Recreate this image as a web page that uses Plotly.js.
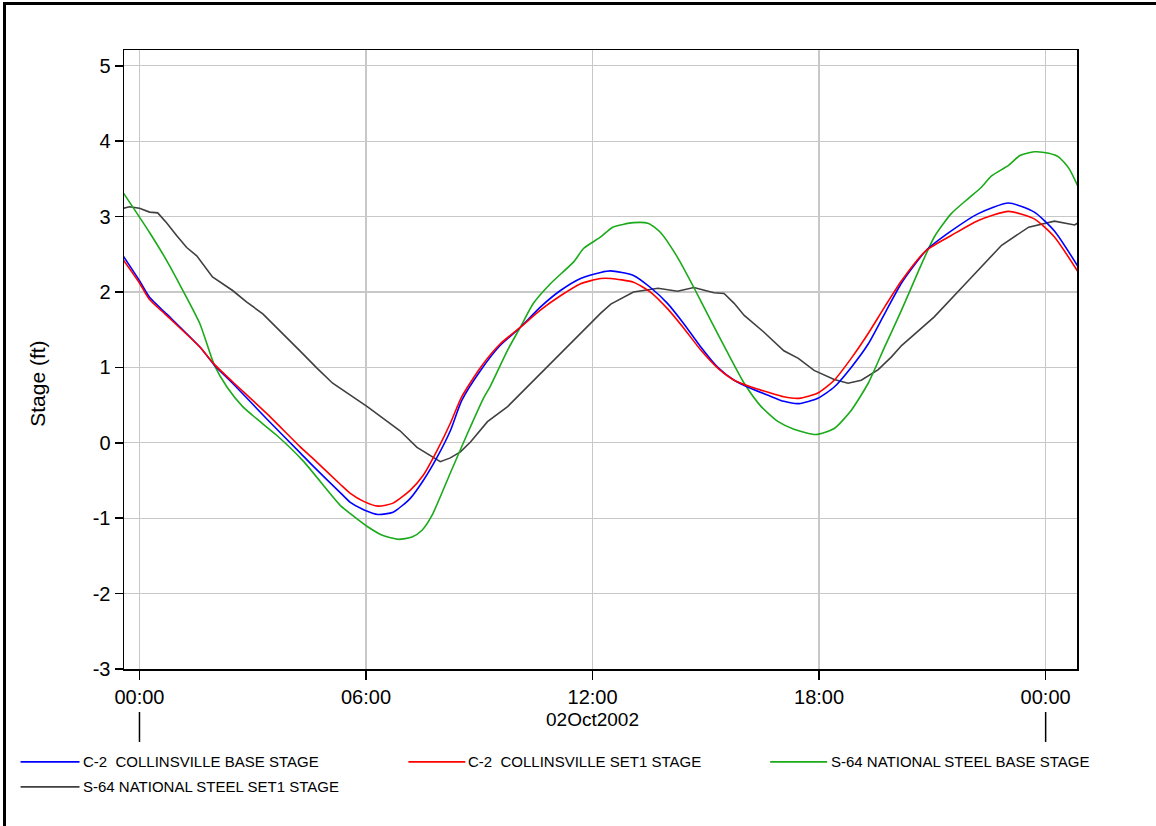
<!DOCTYPE html>
<html>
<head>
<meta charset="utf-8">
<script src="https://cdn.plot.ly/plotly-3.0.1.min.js"></script>
<style>
  html, body { margin: 0; padding: 0; background: #fff; }
  #frame { position: absolute; left: 3px; top: 2px; width: 1160px; height: 830px;
           border-left: 3px solid #000; border-top: 3px solid #000; }
  #chart { position: absolute; left: 0; top: 0; width: 1156px; height: 826px; }
</style>
</head>
<body>
<div id="frame"></div>
<div id="chart"></div>
<script>
// ---------------- DATA ----------------
const seriesNames = [
  "C-2\u00a0\u00a0COLLINSVILLE BASE STAGE",
  "C-2\u00a0\u00a0COLLINSVILLE SET1 STAGE",
  "S-64 NATIONAL STEEL BASE STAGE",
  "S-64 NATIONAL STEEL SET1 STAGE"
];

const c2BaseTime = ["2002-10-01 23:34","2002-10-02 00:00","2002-10-02 00:16","2002-10-02 00:43","2002-10-02 01:36","2002-10-02 01:59","2002-10-02 02:28","2002-10-02 03:22","2002-10-02 04:15","2002-10-02 04:36","2002-10-02 05:19","2002-10-02 05:35","2002-10-02 05:57","2002-10-02 06:19","2002-10-02 06:43","2002-10-02 07:10","2002-10-02 07:31","2002-10-02 07:53","2002-10-02 08:14","2002-10-02 08:32","2002-10-02 09:02","2002-10-02 09:33","2002-10-02 10:05","2002-10-02 10:37","2002-10-02 11:09","2002-10-02 11:41","2002-10-02 12:13","2002-10-02 12:29","2002-10-02 13:05","2002-10-02 13:32","2002-10-02 13:59","2002-10-02 14:25","2002-10-02 14:52","2002-10-02 15:19","2002-10-02 15:45","2002-10-02 16:12","2002-10-02 16:39","2002-10-02 17:04","2002-10-02 17:28","2002-10-02 17:58","2002-10-02 18:24","2002-10-02 18:51","2002-10-02 19:18","2002-10-02 19:44","2002-10-02 20:11","2002-10-02 20:50","2002-10-02 21:30","2002-10-02 22:13","2002-10-02 23:01","2002-10-02 23:42","2002-10-03 00:14","2002-10-03 00:52"];
const c2BaseStage = [2.48,2.15,1.93,1.71,1.27,1.03,0.79,0.32,-0.13,-0.31,-0.66,-0.79,-0.89,-0.95,-0.92,-0.74,-0.50,-0.19,0.16,0.56,0.96,1.29,1.53,1.80,2.02,2.18,2.26,2.28,2.22,2.06,1.85,1.58,1.27,1.00,0.83,0.72,0.63,0.55,0.52,0.59,0.74,1.00,1.31,1.71,2.12,2.55,2.81,3.04,3.18,3.06,2.81,2.33];

const c2Set1Time = c2BaseTime;
const c2Set1Stage = [2.43,2.12,1.90,1.69,1.27,1.04,0.81,0.39,-0.05,-0.21,-0.55,-0.67,-0.78,-0.84,-0.80,-0.63,-0.43,-0.10,0.26,0.61,1.00,1.31,1.53,1.76,1.95,2.11,2.18,2.18,2.13,2.00,1.78,1.52,1.23,0.99,0.83,0.74,0.67,0.61,0.59,0.66,0.83,1.12,1.45,1.80,2.15,2.55,2.75,2.95,3.07,2.97,2.73,2.26];

const s64BaseTime = ["2002-10-01 23:34","2002-10-02 00:16","2002-10-02 00:43","2002-10-02 01:09","2002-10-02 01:36","2002-10-02 01:59","2002-10-02 02:19","2002-10-02 02:44","2002-10-02 03:06","2002-10-02 03:38","2002-10-02 04:20","2002-10-02 05:19","2002-10-02 05:35","2002-10-02 06:02","2002-10-02 06:27","2002-10-02 06:51","2002-10-02 07:13","2002-10-02 07:29","2002-10-02 07:45","2002-10-02 08:14","2002-10-02 08:41","2002-10-02 09:06","2002-10-02 09:18","2002-10-02 09:45","2002-10-02 10:05","2002-10-02 10:26","2002-10-02 10:53","2002-10-02 11:30","2002-10-02 11:46","2002-10-02 12:13","2002-10-02 12:32","2002-10-02 13:05","2002-10-02 13:29","2002-10-02 13:48","2002-10-02 14:15","2002-10-02 14:41","2002-10-02 15:08","2002-10-02 15:35","2002-10-02 16:01","2002-10-02 16:28","2002-10-02 16:55","2002-10-02 17:20","2002-10-02 17:55","2002-10-02 18:24","2002-10-02 18:51","2002-10-02 19:18","2002-10-02 19:44","2002-10-02 20:11","2002-10-02 20:38","2002-10-02 21:03","2002-10-02 21:30","2002-10-02 21:57","2002-10-02 22:18","2002-10-02 22:34","2002-10-02 23:01","2002-10-02 23:19","2002-10-02 23:42","2002-10-03 00:05","2002-10-03 00:21","2002-10-03 00:37","2002-10-03 00:52"];
const s64BaseStage = [3.32,2.79,2.42,2.02,1.58,1.03,0.74,0.48,0.32,0.10,-0.24,-0.83,-0.94,-1.11,-1.23,-1.28,-1.25,-1.16,-0.96,-0.40,0.12,0.58,0.76,1.23,1.53,1.85,2.11,2.40,2.58,2.73,2.86,2.92,2.91,2.79,2.46,2.06,1.62,1.19,0.79,0.48,0.28,0.18,0.11,0.19,0.43,0.79,1.27,1.76,2.28,2.73,3.04,3.24,3.39,3.54,3.68,3.81,3.86,3.84,3.79,3.64,3.39];

const s64Set1Time = ["2002-10-01 23:34","2002-10-01 23:44","2002-10-02 00:00","2002-10-02 00:16","2002-10-02 00:29","2002-10-02 00:43","2002-10-02 00:59","2002-10-02 01:15","2002-10-02 01:31","2002-10-02 01:56","2002-10-02 02:28","2002-10-02 02:50","2002-10-02 03:16","2002-10-02 03:48","2002-10-02 04:15","2002-10-02 04:42","2002-10-02 05:07","2002-10-02 06:02","2002-10-02 06:54","2002-10-02 07:21","2002-10-02 07:42","2002-10-02 07:58","2002-10-02 08:14","2002-10-02 08:30","2002-10-02 08:46","2002-10-02 09:13","2002-10-02 09:45","2002-10-02 10:37","2002-10-02 11:30","2002-10-02 12:13","2002-10-02 12:29","2002-10-02 13:05","2002-10-02 13:44","2002-10-02 14:15","2002-10-02 14:41","2002-10-02 15:13","2002-10-02 15:29","2002-10-02 15:45","2002-10-02 16:01","2002-10-02 16:32","2002-10-02 17:04","2002-10-02 17:27","2002-10-02 17:52","2002-10-02 18:24","2002-10-02 18:46","2002-10-02 19:07","2002-10-02 19:34","2002-10-02 19:55","2002-10-02 20:11","2002-10-02 21:03","2002-10-02 21:57","2002-10-02 22:50","2002-10-02 23:33","2002-10-03 00:14","2002-10-03 00:46","2002-10-03 00:52"];
const s64Set1Stage = [3.11,3.13,3.11,3.06,3.05,2.92,2.75,2.59,2.48,2.20,2.02,1.87,1.71,1.45,1.22,0.99,0.79,0.48,0.16,-0.06,-0.17,-0.25,-0.20,-0.12,0.01,0.28,0.48,0.92,1.36,1.72,1.84,2.00,2.05,2.01,2.06,1.99,1.98,1.85,1.69,1.47,1.22,1.12,0.96,0.84,0.79,0.83,0.97,1.14,1.29,1.67,2.15,2.62,2.86,2.94,2.89,2.92];

const yTickVals = [-3,-2,-1,0,1,2,3,4,5];
const dayTicks = ["2002-10-02 00:00","2002-10-03 00:00"];
const dateLabel = "02Oct2002";
const yTitle = "Stage (ft)";
const colors = ["#0000ff","#ff0000","#1aaa1a","#404040"];

// ---------------- LAYOUT HELPERS ----------------
const W = 1156, H = 826;
const L = 123.5, R = 1077, T = 49.5, B = 669;
const px = x => (x - L) / (R - L);
const py = y => (B - y) / (B - T);

const times = [c2BaseTime, c2Set1Time, s64BaseTime, s64Set1Time];
const stages = [c2BaseStage, c2Set1Stage, s64BaseStage, s64Set1Stage];
const smooth = [true, true, true, false];

const traces = stages.map((s, i) => ({
  type: "scatter", mode: "lines", name: seriesNames[i],
  x: times[i], y: s,
  line: smooth[i] ? { color: colors[i], width: 1.6, shape: "spline", smoothing: 0.6 }
                  : { color: colors[i], width: 1.6, shape: "linear" },
  showlegend: false, hoverinfo: "skip"
}));
const ordered = [traces[3], traces[2], traces[0], traces[1]];

const font = "Liberation Sans, Arial, sans-serif";

const legendPos = [
  { x0: 20, x1: 79, tx: 80, y: 762 },
  { x0: 408, x1: 465, tx: 466, y: 762 },
  { x0: 770, x1: 827, tx: 829, y: 762 },
  { x0: 20, x1: 79, tx: 80, y: 787 }
];

const shapes = [];
const annotations = [];
dayTicks.forEach(d => shapes.push({
  type: "line", xref: "x", yref: "paper", x0: d, x1: d,
  y0: py(712), y1: py(742), line: { color: "#000", width: 1.5 }
}));
legendPos.forEach((p, i) => {
  shapes.push({ type: "line", xref: "paper", yref: "paper",
    x0: px(p.x0), x1: px(p.x1), y0: py(p.y), y1: py(p.y),
    line: { color: colors[i], width: 1.6 } });
  annotations.push({ xref: "paper", yref: "paper", x: px(p.tx), y: py(p.y),
    xanchor: "left", yanchor: "middle", showarrow: false,
    text: seriesNames[i], font: { family: font, size: 15, color: "#000" } });
});
annotations.push({ xref: "x", yref: "paper", x: "2002-10-02 12:00", y: py(720),
  xanchor: "center", yanchor: "middle", showarrow: false, text: dateLabel,
  font: { family: font, size: 19, color: "#000" } });
annotations.push({ xref: "paper", yref: "paper", x: px(37), y: py(384),
  xanchor: "center", yanchor: "middle", showarrow: false, text: yTitle, textangle: -90,
  font: { family: font, size: 21, color: "#000" } });

const layout = {
  width: W, height: H,
  margin: { l: L, r: W - R, t: T, b: H - B, pad: 0 },
  paper_bgcolor: "rgba(0,0,0,0)", plot_bgcolor: "#fff",
  font: { family: font, color: "#000" },
  showlegend: false,
  xaxis: {
    type: "date",
    range: ["2002-10-01 23:35:24", "2002-10-03 00:49:50"],
    tick0: "2002-10-02 00:00", dtick: 6 * 3600000, tickformat: "%H:%M",
    ticks: "outside", ticklen: 9, tickwidth: 1.5, tickcolor: "#000",
    showline: true, linecolor: "#000", linewidth: 1.5, mirror: true,
    showgrid: true, gridcolor: "#c8c8c8", gridwidth: 1.3,
    zeroline: false,
    tickfont: { family: font, size: 20, color: "#000" }
  },
  yaxis: {
    range: [-3, 5.21],
    tickvals: yTickVals, ticktext: yTickVals.map(String),
    ticks: "outside", ticklen: 8, tickwidth: 1.5, tickcolor: "#000",
    showline: true, linecolor: "#000", linewidth: 1.5, mirror: true,
    showgrid: true, gridcolor: "#c8c8c8", gridwidth: 1.3,
    zeroline: false,
    tickfont: { family: font, size: 20, color: "#000" }
  },
  shapes: shapes,
  annotations: annotations
};

Plotly.newPlot("chart", ordered, layout, { staticPlot: true, displayModeBar: false });
</script>
</body>
</html>
